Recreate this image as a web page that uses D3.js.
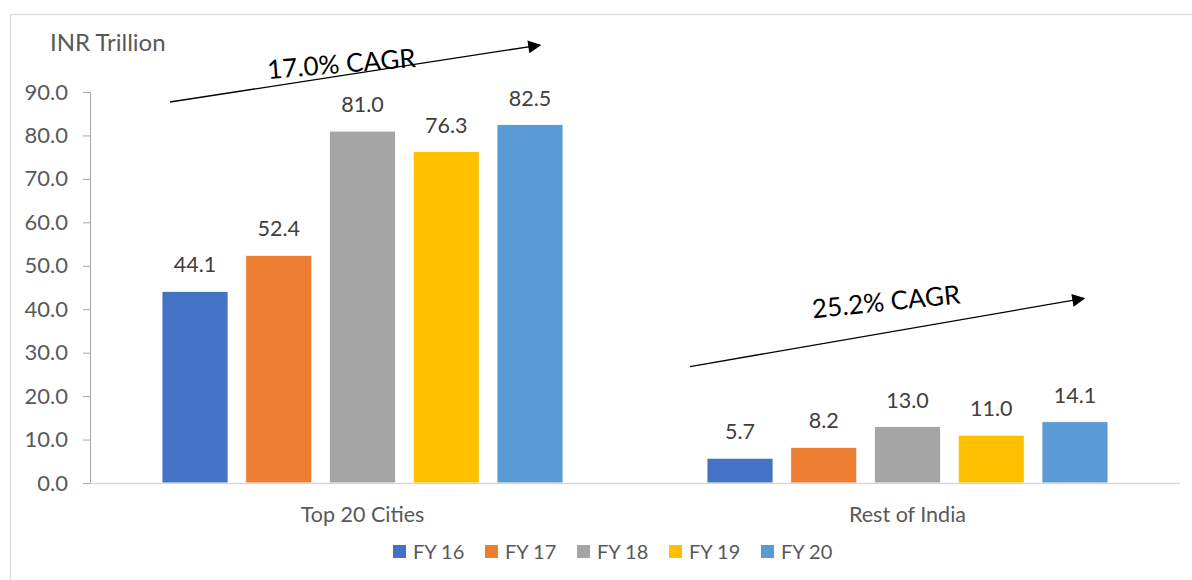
<!DOCTYPE html>
<html>
<head>
<meta charset="utf-8">
<script src="https://cdn.jsdelivr.net/npm/d3@7"></script>
<style>
  html, body { margin: 0; padding: 0; background: #fff; }
  svg { display: block; font-family: Lato, "Open Sans", sans-serif; }
</style>
</head>
<body>
<svg id="chart" width="1192" height="580"></svg>
<script>
// Market size by region, INR trillion
const categories = ["Top 20 Cities", "Rest of India"];
const years = ["FY 16", "FY 17", "FY 18", "FY 19", "FY 20"];
const top20Values = [44.1, 52.4, 81.0, 76.3, 82.5];
const restOfIndiaValues = [5.7, 8.2, 13.0, 11.0, 14.1];
const yearColors = ["#4472C4", "#ED7D31", "#A5A5A5", "#FFC000", "#5B9BD5"];
const yTicks = [0, 10, 20, 30, 40, 50, 60, 70, 80, 90];
const cagrLabels = ["17.0% CAGR", "25.2% CAGR"];
const unitLabel = "INR Trillion";

const seriesByCategory = [top20Values, restOfIndiaValues];

const svg = d3.select("#chart");
const W = 1192, H = 580;
const plot = { left: 90, right: 1180, top: 92, bottom: 483 };

// Outer chart frame
svg.append("rect")
  .attr("x", 10.5).attr("y", 14.5)
  .attr("width", W + 20).attr("height", H + 20)
  .attr("fill", "none").attr("stroke", "#d9d9d9").attr("stroke-width", 1.2);

const y = d3.scaleLinear().domain([0, 90]).range([plot.bottom, plot.top]);
const x0 = d3.scaleBand().domain(categories).range([plot.left, plot.right]).paddingInner(0).paddingOuter(0);
const x1 = d3.scaleBand().domain(years).range([0, x0.bandwidth()]).paddingInner(0.212).paddingOuter(0.86);

// Y axis
const yAxis = d3.axisLeft(y).tickValues(yTicks).tickFormat(d3.format(".1f")).tickSize(7).tickPadding(15);
const gy = svg.append("g").attr("transform", `translate(${plot.left},0)`).call(yAxis);
gy.select(".domain").attr("stroke", "#a6a6a6");
gy.selectAll(".tick line").attr("stroke", "#a6a6a6");
gy.selectAll(".tick text").attr("fill", "#595959").style("font-size", "22px").style("font-family", "Lato, sans-serif");

// Bars
const groups = svg.append("g").selectAll("g")
  .data(categories)
  .join("g")
  .attr("transform", d => `translate(${x0(d)},0)`);

groups.selectAll("rect")
  .data((d, i) => seriesByCategory[i].map((v, j) => ({ year: years[j], value: v, color: yearColors[j] })))
  .join("rect")
  .attr("x", d => x1(d.year))
  .attr("y", d => y(d.value))
  .attr("width", x1.bandwidth())
  .attr("height", d => y(0) - y(d.value))
  .attr("fill", d => d.color)
  .attr("stroke", "#fff").attr("stroke-width", 0.8);

groups.selectAll("text.val")
  .data((d, i) => seriesByCategory[i].map((v, j) => ({ year: years[j], value: v })))
  .join("text")
  .attr("class", "val")
  .attr("x", d => x1(d.year) + x1.bandwidth() / 2)
  .attr("y", d => y(d.value) - 19)
  .attr("text-anchor", "middle")
  .attr("fill", "#404040")
  .style("font-size", "21.5px")
  .text(d => d3.format(".1f")(d.value));

// X axis baseline and category labels
svg.append("line")
  .attr("x1", plot.left).attr("x2", plot.right)
  .attr("y1", y(0) + 0.5).attr("y2", y(0) + 0.5)
  .attr("stroke", "#d9d9d9").attr("stroke-width", 1.5);

svg.append("g").selectAll("text")
  .data(categories)
  .join("text")
  .attr("x", d => x0(d) + x0.bandwidth() / 2)
  .attr("y", 522)
  .attr("text-anchor", "middle")
  .attr("fill", "#595959")
  .style("font-size", "21.5px")
  .text(d => d);

// Unit label
svg.append("text")
  .attr("x", 50).attr("y", 51)
  .attr("fill", "#595959")
  .style("font-size", "24px")
  .text(unitLabel);

// CAGR trend arrows, anchored to each group's first and last bars
const defs = svg.append("defs");
defs.append("marker")
  .attr("id", "arrowhead")
  .attr("viewBox", "0 0 10 10")
  .attr("refX", 9).attr("refY", 5)
  .attr("markerWidth", 16).attr("markerHeight", 13)
  .attr("markerUnits", "userSpaceOnUse")
  .attr("orient", "auto")
  .append("path").attr("d", "M0,0 L10,5 L0,10 Z").attr("fill", "#000");

// start/end levels are in axis units; labels sit a little above the line, at their own tilt
const arrowSpecs = [
  { cat: 0, startOffset: 8, startVal: 87.7, endOffset: 10, endVal: 100.8, labelDx: 98, labelUp: 8, labelAngle: -4.6 },
  { cat: 1, startOffset: -17, startVal: 26.8, endOffset: 9, endVal: 42.5, labelDx: 123, labelUp: 27, labelAngle: -5.8 }
];

arrowSpecs.forEach((a, i) => {
  const cat = categories[a.cat];
  const xs = x0(cat) + x1(years[0]) + a.startOffset;
  const xe = x0(cat) + x1(years[years.length - 1]) + x1.bandwidth() / 2 + a.endOffset;
  const ys = y(a.startVal), ye = y(a.endVal);
  svg.append("line")
    .attr("x1", xs).attr("y1", ys).attr("x2", xe).attr("y2", ye)
    .attr("stroke", "#000").attr("stroke-width", 1.3)
    .attr("marker-end", "url(#arrowhead)");
  const lx = xs + a.labelDx;
  const ly = ys + (ye - ys) * (a.labelDx / (xe - xs)) - a.labelUp;
  svg.append("text")
    .attr("transform", `translate(${lx},${ly}) rotate(${a.labelAngle})`)
    .attr("fill", "#000")
    .style("font-size", "26px")
    .text(cagrLabels[i]);
});

// Legend
const legend = svg.append("g").attr("transform", "translate(393,545)");
const items = legend.selectAll("g").data(years).join("g")
  .attr("transform", (d, i) => `translate(${i * 92},0)`);
items.append("rect").attr("width", 13).attr("height", 13).attr("fill", (d, i) => yearColors[i]);
items.append("text").attr("x", 20).attr("y", 14)
  .attr("fill", "#595959").style("font-size", "20px").text(d => d);
</script>
</body>
</html>
